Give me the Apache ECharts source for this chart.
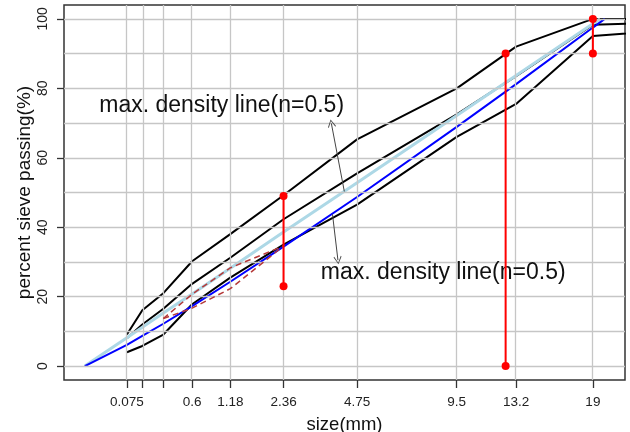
<!DOCTYPE html>
<html>
<head>
<meta charset="utf-8">
<script src="https://cdn.jsdelivr.net/npm/echarts@6/dist/echarts.min.js"></script>
<style>html,body{margin:0;padding:0;background:#fff}#c{width:630px;height:432px}</style>
</head>
<body>
<div id="c"></div>
<script>
// 0.45-power gradation chart: x position = size^0.45
const POW = 0.45;
const tx = d => Math.pow(d, POW);

// axis ticks / labels
const sieveSizes = [0.075, 0.15, 0.3, 0.6, 1.18, 2.36, 4.75, 9.5, 13.2, 19];
const labeledSizes = [0.075, 0.6, 1.18, 2.36, 4.75, 9.5, 13.2, 19];
const yTickValues = [0, 20, 40, 60, 80, 100];
const yGridValues = [0, 10, 20, 30, 40, 50, 60, 70, 80, 90, 100];

// gradation curves (black)
const gradSizes = [0.075, 0.15, 0.3, 0.6, 1.18, 2.36, 4.75, 9.5, 13.2, 19, 26.5];
const upperLimit = [9.1, 16.1, 21.0, 30.2, 38.0, 49.2, 65.3, 80.0, 92.0, 100, 100];
const midGradation = [8.0, 12.0, 16.5, 23.7, 31.2, 42.3, 55.5, 72.5, 83.5, 98.3, 99.0];
const lowerLimit = [4.0, 5.8, 9.1, 17.8, 25.5, 35.0, 46.5, 66.0, 75.5, 95.1, 96.8];

// max density lines
const lightLineSizes = [0, 0.075, 0.15, 0.3, 0.6, 1.18, 2.36, 4.75, 9.5, 13.2, 19, 19.6];
const lightLineValues = [0, 8.2, 11.2, 15.3, 20.8, 28.2, 38.6, 52.8, 72.2, 83.7, 98.6, 100];
const blueLineSizes = [0, 0.075, 0.15, 0.3, 0.6, 1.18, 2.36, 4.75, 9.5, 13.2, 19, 20];
const blueLineValues = [0, 6.1, 8.7, 12.2, 17.3, 24.3, 34.4, 48.7, 68.9, 81.2, 97.5, 100];

// restricted zone (dashed)
const zoneSizes = [0.3, 0.6, 1.18, 2.36];
const zoneUpper = [13.7, 20.7, 28.3, 34.6];
const zoneLower = [13.7, 16.7, 22.3, 34.6];

// control points (red)
const controlSizes = [2.36, 12.5, 19];
const controlLow = [23, 0, 90];
const controlHigh = [49, 90, 100];

// annotations
const annText = 'max. density line(n=0.5)';
const annTopAnchor = [1.03, 75.0];
const annBottomAnchor = [8.75, 27.0];
const arrowTop = [[4.27, 50.3], [3.81, 69.9]];
const arrowBottom = [[3.85, 43.7], [4.04, 30.5]];

const pts = (sizes, vals) => sizes.map((d, i) => [tx(d), vals[i]]);
const FONT = 'Liberation Sans, Arial, Helvetica, sans-serif';

function labelFor(v) {
  let best = labeledSizes[0], bd = Infinity;
  labeledSizes.forEach(s => { const dd = Math.abs(tx(s) - v); if (dd < bd) { bd = dd; best = s; } });
  return String(best);
}

const chevron = 'path://M0,0 L6,10 L5,11 L0,2 L-5,11 L-6,10 Z';

const series = [];
series.push({
  type: 'line', data: [], z: 1, silent: true,
  markLine: {
    silent: true, animation: false, symbol: ['none', 'none'], label: { show: false },
    lineStyle: { color: '#c6c6c6', width: 1.3, type: 'solid' },
    emphasis: { disabled: true },
    data: [
      ...yGridValues.map(v => ({ yAxis: v })),
      ...sieveSizes.map(d => ({ xAxis: tx(d) }))
    ]
  }
});
[[upperLimit, 'upper'], [midGradation, 'mid'], [lowerLimit, 'lower']].forEach(([vals, name]) => {
  series.push({
    name, type: 'line', z: 2, data: pts(gradSizes, vals), showSymbol: false, symbol: 'none',
    lineStyle: { color: '#000', width: 2 }
  });
});
series.push({
  name: 'mdl light', type: 'line', z: 3, data: pts(lightLineSizes, lightLineValues), symbol: 'none',
  lineStyle: { color: '#ADD8E6', width: 3 }
});
series.push({
  name: 'mdl blue', type: 'line', z: 4, data: pts(blueLineSizes, blueLineValues), symbol: 'none',
  lineStyle: { color: '#0000FF', width: 2 }
});
[zoneUpper, zoneLower].forEach(vals => {
  series.push({
    type: 'line', z: 5, data: pts(zoneSizes, vals), symbol: 'none',
    lineStyle: { color: '#B53A3A', width: 1.5, type: [6, 4] }
  });
});
controlSizes.forEach((d, i) => {
  series.push({
    type: 'line', z: 6, data: [[tx(d), controlLow[i]], [tx(d), controlHigh[i]]],
    symbol: 'circle', symbolSize: 8, showSymbol: true, clip: false,
    itemStyle: { color: '#FF0000' }, lineStyle: { color: '#FF0000', width: 2 }
  });
});
series.push({
  type: 'line', data: [], z: 7, silent: true,
  markLine: {
    silent: true, animation: false, symbol: ['none', chevron], symbolSize: [8, 8],
    label: { show: false }, lineStyle: { color: '#444', width: 1, type: 'solid' },
    emphasis: { disabled: true },
    data: [
      [{ coord: [tx(arrowTop[0][0]), arrowTop[0][1]] }, { coord: [tx(arrowTop[1][0]), arrowTop[1][1]] }],
      [{ coord: [tx(arrowBottom[0][0]), arrowBottom[0][1]] }, { coord: [tx(arrowBottom[1][0]), arrowBottom[1][1]] }]
    ]
  },
  markPoint: {
    silent: true, animation: false, symbol: 'circle', symbolSize: 1,
    itemStyle: { color: 'rgba(0,0,0,0)' },
    label: { show: true, position: 'inside', formatter: annText, fontSize: 23, fontFamily: FONT, color: '#111' },
    data: [
      { coord: [tx(annTopAnchor[0]), annTopAnchor[1]] },
      { coord: [tx(annBottomAnchor[0]), annBottomAnchor[1]] }
    ]
  }
});

const chart = echarts.init(document.getElementById('c'), null, { renderer: 'canvas' });
chart.setOption({
  animation: false,
  backgroundColor: '#fff',
  grid: { left: 64, right: 5, top: 5, bottom: 52, show: true, borderColor: '#333', borderWidth: 1.5, backgroundColor: 'transparent', containLabel: false, outerBoundsMode: 'none' },
  xAxis: {
    type: 'value', min: -0.154, max: 4.0,
    name: 'size(mm)', nameLocation: 'middle', nameGap: 35, nameMoveOverlap: false,
    nameTextStyle: { fontSize: 18.5, fontFamily: FONT, color: '#111' },
    axisLine: { show: false, onZero: false },
    splitLine: { show: false },
    axisTick: { show: true, inside: false, length: 8, lineStyle: { color: '#333', width: 1.3 }, customValues: sieveSizes.map(tx) },
    axisLabel: { show: true, margin: 15, fontSize: 13.5, fontFamily: FONT, color: '#222', customValues: labeledSizes.map(tx), formatter: labelFor }
  },
  yAxis: {
    type: 'value', min: -4, max: 104,
    name: 'percent sieve passing(%)', nameLocation: 'middle', nameGap: 30, nameMoveOverlap: false,
    nameTextStyle: { fontSize: 19, fontFamily: FONT, color: '#111' },
    axisLine: { show: false, onZero: false },
    splitLine: { show: false },
    axisTick: { show: true, inside: false, length: 7, lineStyle: { color: '#333', width: 1.3 }, customValues: yTickValues },
    axisLabel: { show: true, margin: 14, rotate: 90, fontSize: 14, fontFamily: FONT, color: '#222', customValues: yTickValues }
  },
  series
});
</script>
</body>
</html>
